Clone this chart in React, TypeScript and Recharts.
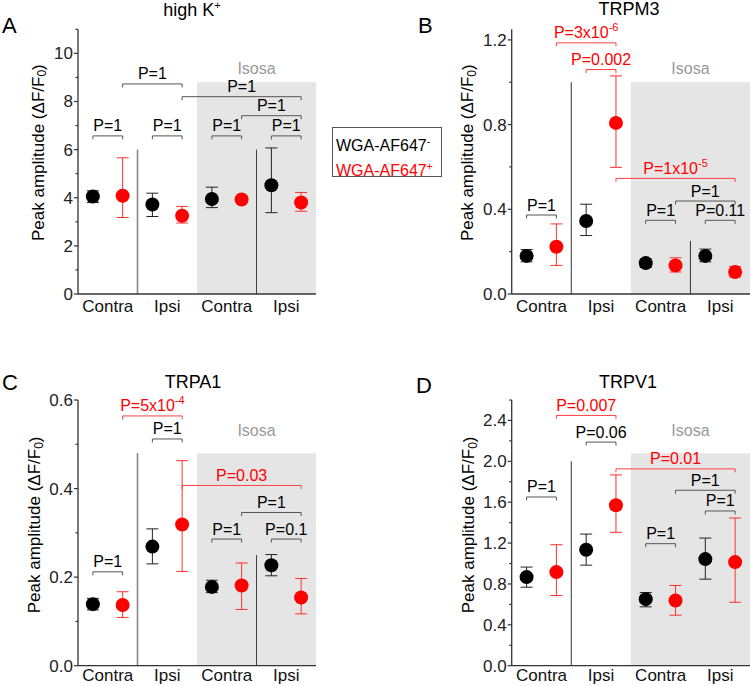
import React from 'react';
import {
  ScatterChart,
  Scatter,
  XAxis,
  YAxis,
  ErrorBar,
  ReferenceArea,
  ReferenceLine,
} from 'recharts';

const FONT = '"Liberation Sans", Arial, sans-serif';

// x positions: black/red pairs for each group
const positions = [1, 2, 3, 4, 5, 6, 7, 8];
const groupTicks = [1.5, 3.5, 5.5, 7.5];
const groupLabels = ['Contra', 'Ipsi', 'Contra', 'Ipsi'];

// A: high K+
const kMean = [4.05, 4.08, 3.72, 3.25, 3.95, 3.93, 4.52, 3.8];
const kLow = [3.8, 3.18, 3.22, 2.95, 3.59, 3.8, 3.38, 3.44];
const kHigh = [4.29, 5.66, 4.19, 3.64, 4.44, 4.06, 6.07, 4.22];
const kTicks = [0, 1, 2, 3, 4, 5, 6, 7, 8, 9, 10, 11];

// B: TRPM3
const m3Mean = [0.18, 0.223, 0.345, 0.808, 0.146, 0.135, 0.18, 0.104];
const m3Low = [0.152, 0.135, 0.276, 0.598, 0.125, 0.104, 0.152, 0.08];
const m3High = [0.21, 0.331, 0.424, 1.03, 0.166, 0.171, 0.212, 0.13];
const m3Ticks = [0, 0.2, 0.4, 0.6, 0.8, 1.0, 1.2];

// C: TRPA1
const a1Mean = [0.139, 0.137, 0.269, 0.319, 0.178, 0.181, 0.227, 0.154];
const a1Low = [0.126, 0.109, 0.23, 0.213, 0.165, 0.127, 0.203, 0.117];
const a1High = [0.152, 0.167, 0.309, 0.463, 0.193, 0.232, 0.251, 0.197];
const a1Ticks = [0, 0.1, 0.2, 0.3, 0.4, 0.5, 0.6];

// D: TRPV1
const v1Mean = [0.867, 0.916, 1.135, 1.57, 0.651, 0.638, 1.043, 1.014];
const v1Low = [0.768, 0.687, 0.984, 1.305, 0.576, 0.494, 0.847, 0.621];
const v1High = [0.965, 1.184, 1.288, 1.867, 0.716, 0.785, 1.249, 1.445];
const v1Ticks = [0, 0.2, 0.4, 0.6, 0.8, 1.0, 1.2, 1.4, 1.6, 1.8, 2.0, 2.2, 2.4, 2.6];

// significance brackets: [from, to, height, label, colour]
type Bracket = [number, number, number, string, 'k' | 'r'];

const kBrackets: Bracket[] = [
  [1, 2, 6.57, 'P=1', 'k'],
  [3, 4, 6.57, 'P=1', 'k'],
  [5, 6, 6.57, 'P=1', 'k'],
  [7, 8, 6.57, 'P=1', 'k'],
  [6, 8, 7.41, 'P=1', 'k'],
  [4, 8, 8.2, 'P=1', 'k'],
  [2, 4, 8.73, 'P=1', 'k'],
];
const m3Brackets: Bracket[] = [
  [1, 2, 0.373, 'P=1', 'k'],
  [5, 6, 0.348, 'P=1', 'k'],
  [7, 8, 0.348, 'P=0.11', 'k'],
  [6, 8, 0.439, 'P=1', 'k'],
  [4, 8, 0.546, 'P=1x10^-5', 'r'],
  [3, 4, 1.06, 'P=0.002', 'r'],
  [2, 4, 1.186, 'P=3x10^-6', 'r'],
];
const a1Brackets: Bracket[] = [
  [1, 2, 0.212, 'P=1', 'k'],
  [3, 4, 0.512, 'P=1', 'k'],
  [2, 4, 0.564, 'P=5x10^-4', 'r'],
  [5, 6, 0.286, 'P=1', 'k'],
  [7, 8, 0.286, 'P=0.1', 'k'],
  [6, 8, 0.346, 'P=1', 'k'],
  [4, 8, 0.407, 'P=0.03', 'r'],
];
const v1Brackets: Bracket[] = [
  [1, 2, 1.651, 'P=1', 'k'],
  [3, 4, 2.188, 'P=0.06', 'k'],
  [2, 4, 2.449, 'P=0.007', 'r'],
  [5, 6, 1.194, 'P=1', 'k'],
  [7, 8, 1.514, 'P=1', 'k'],
  [6, 8, 1.717, 'P=1', 'k'],
  [4, 8, 1.926, 'P=0.01', 'r'],
];

const RED = '#ff0000';

function rows(mean: number[], low: number[], high: number[], parity: number) {
  return positions
    .map((x, i) => ({ x, y: mean[i], err: [mean[i] - low[i], high[i] - mean[i]] }))
    .filter((_, i) => i % 2 === parity);
}

function BracketShape(props: any) {
  const { x1, y1, x2, label, kind } = props;
  const [base, sup] = String(label).split('^');
  const line = kind === 'r' ? '#ff4040' : '#555';
  const txt = kind === 'r' ? RED : '#000';
  return (
    <g>
      <path d={`M${x1},${y1 + 3.5}V${y1}H${x2}V${y1 + 3.5}`} fill="none" stroke={line} strokeWidth={1} />
      <text x={(x1 + x2) / 2} y={y1 - 4.5} textAnchor="middle" fontSize={16} fill={txt}>
        {base}
        {sup && (
          <tspan dy={-7} fontSize={11}>
            {sup}
          </tspan>
        )}
      </text>
    </g>
  );
}

function YTick(props: any) {
  const { x, y, payload, step, digits } = props;
  const v = payload.value;
  const major = Math.abs(v / step - Math.round(v / step)) < 1e-6;
  return (
    <g>
      <line x1={x} x2={x - (major ? 4 : 2.5)} y1={y} y2={y} stroke="#333" strokeWidth={1.2} />
      {major && (
        <text x={x - 5} y={y} dy={6} textAnchor="end" fontSize={17} fill="#222">
          {v.toFixed(digits)}
        </text>
      )}
    </g>
  );
}

type Divider = [number, number, string, number];

type PanelProps = {
  left: number;
  top: number;
  height: number;
  margin: { top: number; right: number; bottom: number; left: number };
  xHeight: number;
  xGap: number;
  yMax: number;
  yTicks: number[];
  step: number;
  digits: number;
  mean: number[];
  low: number[];
  high: number[];
  brackets: Bracket[];
  shadeTop: number;
  isosaOffset: number;
  dividers: Divider[];
  labelDx: number;
  labelDy: number;
};

function Panel(p: PanelProps) {
  const black = rows(p.mean, p.low, p.high, 0);
  const red = rows(p.mean, p.low, p.high, 1);
  const yLabel = (lp: any) => {
    const vb = lp.viewBox;
    const cx = vb.x + vb.width - p.labelDx;
    const cy = vb.y + vb.height / 2 + p.labelDy;
    return (
      <text
        x={cx}
        y={cy}
        transform={`rotate(-90 ${cx} ${cy})`}
        textAnchor="middle"
        dominantBaseline="central"
        fontSize={17}
        fill="#000"
      >
        Peak amplitude (ΔF/F
        <tspan dy={4} fontSize={12}>
          0
        </tspan>
        <tspan dy={-4}>)</tspan>
      </text>
    );
  };
  return (
    <div style={{ position: 'absolute', left: p.left, top: p.top }}>
      <ScatterChart width={375} height={p.height} margin={p.margin}>
        <ReferenceArea
          x1={4.5}
          x2={8.5}
          y1={0}
          y2={p.shadeTop}
          fill="#e5e5e5"
          fillOpacity={1}
          stroke="none"
          label={{ value: 'Isosa', position: 'top', offset: p.isosaOffset, fill: '#999', fontSize: 16 }}
        />
        {p.dividers.map(([x, t, c, w], i) => (
          <ReferenceLine
            key={`d${i}`}
            segment={[
              { x, y: 0 },
              { x, y: t },
            ]}
            stroke={c}
            strokeWidth={w}
          />
        ))}
        <XAxis
          type="number"
          dataKey="x"
          domain={[0.5, 8.5]}
          ticks={groupTicks}
          interval={0}
          tickFormatter={(v: number) => groupLabels[groupTicks.indexOf(v)]}
          tickLine={false}
          tickSize={0}
          tickMargin={p.xGap}
          height={p.xHeight}
          axisLine={{ stroke: '#333', strokeWidth: 1.3 }}
          tick={{ fontSize: 17, fill: '#111' }}
          allowDataOverflow
        />
        <YAxis
          type="number"
          dataKey="y"
          domain={[0, p.yMax]}
          ticks={p.yTicks}
          interval={0}
          width={60}
          tickLine={false}
          tickSize={0}
          tickMargin={0}
          axisLine={{ stroke: '#333', strokeWidth: 1.3 }}
          tick={(tp: any) => <YTick {...tp} step={p.step} digits={p.digits} />}
          label={{ content: yLabel }}
          allowDataOverflow
        />
        {p.brackets.map(([a, b, y, label, kind], i) => (
          <ReferenceLine
            key={`b${i}`}
            segment={[
              { x: a, y },
              { x: b, y },
            ]}
            shape={(sp: any) => <BracketShape {...sp} label={label} kind={kind} />}
          />
        ))}
        <Scatter
          data={black}
          isAnimationActive={false}
          shape={(s: any) => <circle cx={s.cx} cy={s.cy} r={7} fill="#000" />}
        >
          <ErrorBar dataKey="err" direction="y" width={6} stroke="#222" strokeWidth={1} isAnimationActive={false} />
        </Scatter>
        <Scatter
          data={red}
          isAnimationActive={false}
          shape={(s: any) => <circle cx={s.cx} cy={s.cy} r={7} fill={RED} />}
        >
          <ErrorBar dataKey="err" direction="y" width={6} stroke="#ff3030" strokeWidth={1} isAnimationActive={false} />
        </Scatter>
      </ScatterChart>
    </div>
  );
}

export default function App() {
  return (
    <div
      style={{
        position: 'absolute',
        left: 0,
        top: 0,
        width: 750,
        height: 686,
        background: '#fff',
        fontFamily: FONT,
        overflow: 'hidden',
      }}
    >
      <Panel
        left={0}
        top={0}
        height={340}
        margin={{ top: 29.3, right: 59, bottom: 16, left: 18 }}
        xHeight={30}
        xGap={6}
        yMax={11}
        yTicks={kTicks}
        step={2}
        digits={0}
        mean={kMean}
        low={kLow}
        high={kHigh}
        brackets={kBrackets}
        shadeTop={8.8}
        isosaOffset={8}
        dividers={[
          [2.5, 6, '#888', 1.6],
          [6.5, 6, '#444', 1],
        ]}
        labelDx={39.5}
        labelDy={-9}
      />
      <Panel
        left={375}
        top={0}
        height={340}
        margin={{ top: 29.3, right: 0, bottom: 16, left: 76.7 }}
        xHeight={30}
        xGap={6}
        yMax={1.25}
        yTicks={m3Ticks}
        step={0.4}
        digits={1}
        mean={m3Mean}
        low={m3Low}
        high={m3High}
        brackets={m3Brackets}
        shadeTop={1.0}
        isosaOffset={8}
        dividers={[
          [2.5, 1.0, '#333', 1],
          [6.5, 0.25, '#333', 1],
        ]}
        labelDx={44}
        labelDy={-9}
      />
      <Panel
        left={0}
        top={340}
        height={346}
        margin={{ top: 60, right: 59, bottom: 0, left: 18 }}
        xHeight={20.3}
        xGap={3}
        yMax={0.6}
        yTicks={a1Ticks}
        step={0.2}
        digits={1}
        mean={a1Mean}
        low={a1Low}
        high={a1High}
        brackets={a1Brackets}
        shadeTop={0.48}
        isosaOffset={17}
        dividers={[
          [2.5, 0.48, '#888', 1.6],
          [6.5, 0.25, '#444', 1],
        ]}
        labelDx={43}
        labelDy={-8}
      />
      <Panel
        left={375}
        top={340}
        height={346}
        margin={{ top: 60, right: 0, bottom: 0, left: 76.7 }}
        xHeight={20.3}
        xGap={3}
        yMax={2.6}
        yTicks={v1Ticks}
        step={0.4}
        digits={1}
        mean={v1Mean}
        low={v1Low}
        high={v1High}
        brackets={v1Brackets}
        shadeTop={2.08}
        isosaOffset={17}
        dividers={[[2.5, 2.0, '#333', 1]]}
        labelDx={43}
        labelDy={-8}
      />

      <svg
        width={750}
        height={686}
        style={{ position: 'absolute', left: 0, top: 0, pointerEvents: 'none' }}
      >
        <text x={192} y={16} textAnchor="middle" fontSize={18}>
          high K<tspan dy={-7} fontSize={11}>+</tspan>
        </text>
        <text x={629} y={15} textAnchor="middle" fontSize={18}>
          TRPM3
        </text>
        <text x={193} y={388} textAnchor="middle" fontSize={18}>
          TRPA1
        </text>
        <text x={628} y={388} textAnchor="middle" fontSize={18}>
          TRPV1
        </text>
        <text x={2} y={33} fontSize={22}>A</text>
        <text x={418} y={33} fontSize={22}>B</text>
        <text x={2} y={390} fontSize={22}>C</text>
        <text x={416} y={393} fontSize={22}>D</text>
      </svg>

      <div
        style={{
          position: 'absolute',
          left: 332,
          top: 127,
          width: 110,
          height: 50,
          border: '1px solid #555',
          background: '#fff',
          fontSize: 16,
          lineHeight: '21px',
          padding: '3px 0 0 3px',
          boxSizing: 'border-box',
        }}
      >
        <div style={{ color: '#000' }}>
          WGA-AF647<sup style={{ fontSize: 10 }}>-</sup>
        </div>
        <div style={{ color: RED }}>
          WGA-AF647<sup style={{ fontSize: 10 }}>+</sup>
        </div>
      </div>
    </div>
  );
}
